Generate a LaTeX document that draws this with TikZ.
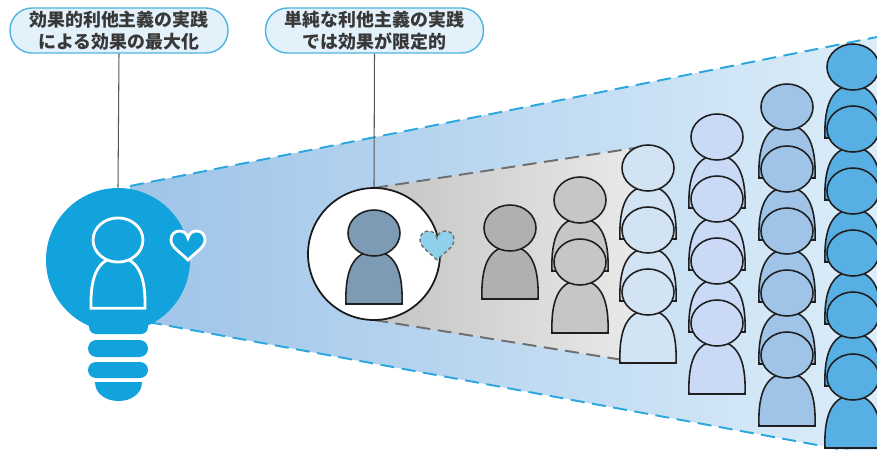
\documentclass[tikz,border=0pt]{standalone}
\usepackage{fontspec}
\newfontfamily\cjk{Noto Sans CJK JP}
\usetikzlibrary{positioning}

\definecolor{bulbblue}{HTML}{12A3DC}
\definecolor{tagfill}{HTML}{E3F1FA}
\definecolor{tagline}{HTML}{4DB5DF}
\definecolor{ink}{HTML}{383838}
\definecolor{coneL}{HTML}{9DC3E8}
\definecolor{coneR}{HTML}{DCEDF9}
\definecolor{grayL}{HTML}{C4C4C4}
\definecolor{grayR}{HTML}{EBEBEB}
\definecolor{dashblue}{HTML}{2AA7DE}
\definecolor{dashgray}{HTML}{6E6E6E}
\definecolor{lonely}{HTML}{7E9BB6}
\definecolor{heartblue}{HTML}{8FD1EA}
\definecolor{rowA}{HTML}{B0B0B0}
\definecolor{rowB}{HTML}{C6C6C6}
\definecolor{rowC}{HTML}{D2E3F4}
\definecolor{rowD}{HTML}{C9D9F6}
\definecolor{rowE}{HTML}{9FC4E8}
\definecolor{rowF}{HTML}{58AFE4}

\tikzset{
  pics/person/.style={code={
    \path[pic actions] (-28,71) .. controls (-29,44) and (-24,19) .. (0,18)
      .. controls (24,19) and (29,44) .. (28,71) -- cycle;
    \path[pic actions] (0,0) ellipse [x radius=26, y radius=23];
  }},
  pics/heart/.style={code={
    \path[pic actions] (0,14) .. controls (-8,6) and (-17,1) .. (-17,-6)
      .. controls (-17,-12) and (-13,-15) .. (-8.5,-15)
      .. controls (-4,-15) and (-1,-12) .. (0,-8)
      .. controls (1,-12) and (4,-15) .. (8.5,-15)
      .. controls (13,-15) and (17,-12) .. (17,-6)
      .. controls (17,1) and (8,6) .. (0,14) -- cycle;
  }},
  tag/.style={draw=tagline, fill=tagfill, line width=0.8pt, rounded corners=0.44cm,
    minimum width=4.36cm, minimum height=0.9cm, inner sep=0pt, align=center,
    text=ink, font=\cjk\bfseries\fontsize{10.2}{12.6}\selectfont},
  lead/.style={draw=black!65, line width=0.6pt},
  crowd/.style={draw=black!88, line width=0.9pt, fill=#1},
  bluedash/.style={draw=dashblue, line width=1.1pt, dash pattern=on 0.28cm off 0.15cm},
  graydash/.style={draw=dashgray, line width=1.1pt, dash pattern=on 0.28cm off 0.15cm},
}

\begin{document}
\begin{tikzpicture}[x=0.02cm, y=-0.02cm]
\useasboundingbox (0,0) rectangle (877,450);
\clip (0,0) rectangle (877,450);

% wide cone
\coordinate (wt) at (130,186);
\coordinate (wb) at (148,322);
\coordinate (wtr) at (877,37);
\coordinate (wbr) at (877,456);
\shade[left color=coneL, right color=coneR] (118,260) -- (wt) -- (wtr) -- (wbr) -- (wb) -- cycle;
\draw[bluedash] (wt) -- (wtr);
\draw[bluedash] (wb) -- (wbr);

% narrow cone
\coordinate (nt) at (374,188);
\coordinate (nb) at (374,320);
\coordinate (ntr) at (648,146);
\coordinate (nbr) at (648,364);
\shade[left color=grayL, right color=grayR] (nt) -- (ntr) -- (nbr) -- (nb) -- cycle;
\draw[graydash] (nt) -- (ntr);
\draw[graydash] (nb) -- (nbr);

\node[circle, fill=bulbblue, minimum size=2.88cm, inner sep=0pt] (bulb) at (118,260) {};
\node[circle, draw=black!90, line width=1pt, fill=white, minimum size=2.64cm, inner sep=0pt] (single) at (374,254) {};

% labels
\node[tag] (effective) at (119,30.5) {効果的利他主義の実践\\による効果の最大化};
\node[tag] (simple) at (374.5,30.5) {単純な利他主義の実践\\では効果が限定的};
\draw[lead] (effective.south) -- (bulb.north);
\draw[lead] (simple.south) -- (single.north);

% bulb
\fill[bulbblue, rounded corners=0.14cm] (89,300) rectangle (148,334);
\fill[bulbblue, rounded corners=0.17cm] (88,340) rectangle (148,357);
\fill[bulbblue, rounded corners=0.16cm] (88,362) rectangle (148,378);
\fill[bulbblue] (95,382) -- (142,382) .. controls (142,394) and (131,401) .. (118.5,401)
  .. controls (106,401) and (95,394) .. (95,382) -- cycle;
\pic[draw=white, line width=1.6pt, fill=bulbblue, scale=0.96] at (118,240) {person};
\pic[draw=white, line width=1.6pt, fill=bulbblue] at (188,246) {heart};

% one person
\pic[crowd=lonely] at (374,233) {person};
\pic[draw=dashgray, line width=0.8pt, dash pattern=on 2pt off 1.5pt, fill=heartblue] at (437,246) {heart};

% growing crowds
\foreach \x/\n/\top/\col in {510/1/228/rowA, 580/2/200/rowB, 648/3/168/rowC,
    717/4/137/rowD, 787/5/107/rowE, 853/6/67/rowF}
  \foreach \k in {1,...,\n}
    \pic[crowd=\col] at (\x,{\top+62*(\k-1)}) {person};
\end{tikzpicture}
\end{document}
